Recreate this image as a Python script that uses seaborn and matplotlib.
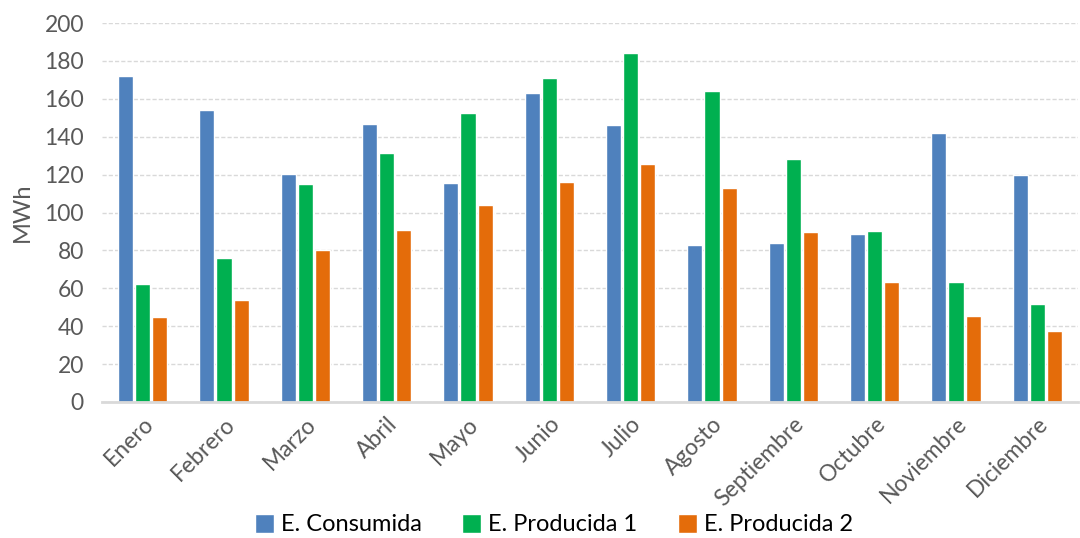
import matplotlib
matplotlib.use("Agg")
import matplotlib.pyplot as plt
from matplotlib.patches import Patch
import seaborn as sns
import pandas as pd

# data
meses = ["Enero", "Febrero", "Marzo", "Abril", "Mayo", "Junio", "Julio",
         "Agosto", "Septiembre", "Octubre", "Noviembre", "Diciembre"]
consumida = [172, 154, 120.3, 146.7, 115.4, 163, 146.2, 83, 83.8, 88.5, 141.7, 120]
producida_1 = [62.3, 76.2, 114.9, 131.6, 152.4, 170.8, 184.2, 164, 128.4, 90.2, 63.5, 51.9]
producida_2 = [44.9, 54, 80.4, 90.8, 104.1, 116.3, 125.6, 112.8, 89.5, 63.5, 45.5, 37.6]
series = ["E. Consumida", "E. Producida 1", "E. Producida 2"]
colores = ["#4F81BD", "#00B050", "#E46C0A"]

df = pd.DataFrame({
    "mes": meses * 3,
    "serie": [series[0]] * 12 + [series[1]] * 12 + [series[2]] * 12,
    "valor": consumida + producida_1 + producida_2,
})

sns.set_style("white")
plt.rcParams["font.family"] = ["Lato", "DejaVu Sans"]
gris = "#595959"

fig = plt.figure(figsize=(10.8, 5.38), dpi=100)
ax = fig.add_axes([102 / 1080, 136 / 538, 976 / 1080, 379 / 538])

sns.barplot(data=df, x="mes", y="valor", hue="serie", order=meses,
            hue_order=series, palette=colores, width=0.63, gap=0.12,
            saturation=1, errorbar=None, ax=ax, legend=False)

ax.set_ylim(0, 200)
ax.set_xlim(-0.5, 11.5)
ax.set_yticks(range(0, 201, 20))
ax.yaxis.grid(True, color="#d9d9d9", linestyle=(0, (3, 1.5)), linewidth=1)
ax.set_axisbelow(True)
for s in ["top", "right", "left"]:
    ax.spines[s].set_visible(False)
ax.spines["bottom"].set_color("#d9d9d9")
ax.spines["bottom"].set_linewidth(2)
ax.tick_params(axis="both", length=0, labelsize=16.5, colors=gris, pad=8)
ax.tick_params(axis="y", pad=13)
plt.setp(ax.get_xticklabels(), rotation=45, ha="right", rotation_mode="anchor")
ax.set_xlabel("")
ax.set_ylabel("MWh", fontsize=17, color=gris, labelpad=8)

handles = [Patch(facecolor=c, label=s) for c, s in zip(colores, series)]
fig.legend(handles=handles, loc="center", bbox_to_anchor=(0.513, 0.025),
           ncol=3, frameon=False, fontsize=17, handlelength=0.8,
           handleheight=0.85, handletextpad=0.3, columnspacing=1.7,
           labelcolor="black")

fig.savefig("out.png", dpi=100)
